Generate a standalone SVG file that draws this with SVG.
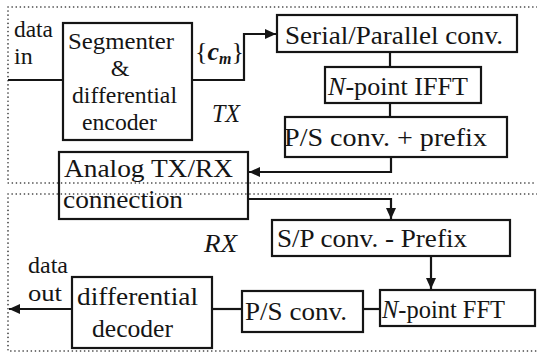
<svg xmlns="http://www.w3.org/2000/svg" width="537" height="356" viewBox="0 0 537 356">
<style>
text{font-family:"Liberation Serif","Times New Roman",serif;fill:#151515;font-size:24px}
.big{font-size:26px}
.it{font-style:italic}
.box{fill:none;stroke:#151515;stroke-width:2.2}
.dot{fill:none;stroke:#333;stroke-width:1.6;stroke-dasharray:0.1 4;stroke-linecap:round}
.ln{fill:none;stroke:#151515;stroke-width:2.2}
</style>
<defs>
<marker id="ah" markerUnits="userSpaceOnUse" markerWidth="12" markerHeight="10" refX="11" refY="5" orient="auto">
<path d="M0,0 L11,5 L0,10 Z" fill="#151515"/>
</marker>
</defs>
<rect width="537" height="356" fill="#fff"/>
<g id="frames">
<path class="dot" d="M537,7 H8 V183 H537"/>
<path class="dot" d="M537,194 H8 V351 H537"/>
</g>
<g id="labels">
<text x="14" y="37" textLength="39" lengthAdjust="spacingAndGlyphs">data</text>
<text x="14" y="64">in</text>
<text x="212" y="122" class="it big" textLength="28" lengthAdjust="spacingAndGlyphs">TX</text>
<text x="204" y="252" class="it big" textLength="33" lengthAdjust="spacingAndGlyphs">RX</text>
<text x="28" y="273" textLength="40" lengthAdjust="spacingAndGlyphs">data</text>
<text x="28" y="301" textLength="34" lengthAdjust="spacingAndGlyphs">out</text>
<text x="195" y="60" class="big">{<tspan class="it" font-weight="bold">c</tspan><tspan class="it" font-weight="bold" font-size="16" dy="4">m</tspan><tspan dy="-4">}</tspan></text>
</g>
<g id="segmenter">
<rect class="box" x="63" y="23" width="129" height="117"/>
<text x="68" y="49" textLength="106" lengthAdjust="spacingAndGlyphs">Segmenter</text>
<text x="120" y="76" text-anchor="middle" font-size="22">&amp;</text>
<text x="72" y="103" textLength="105" lengthAdjust="spacingAndGlyphs">differential</text>
<text x="82" y="130" textLength="75" lengthAdjust="spacingAndGlyphs">encoder</text>
</g>
<g id="sp-conv">
<rect class="box" x="277" y="15" width="240" height="37"/>
<text x="285" y="44" class="big" textLength="218" lengthAdjust="spacingAndGlyphs">Serial/Parallel conv.</text>
</g>
<g id="ifft">
<rect class="box" x="325" y="67" width="156" height="36"/>
<text x="328" y="95" class="big" textLength="140" lengthAdjust="spacingAndGlyphs"><tspan class="it">N</tspan>-point IFFT</text>
</g>
<g id="ps-prefix">
<rect class="box" x="285" y="117" width="222" height="40"/>
<text x="284" y="146" class="big" textLength="203" lengthAdjust="spacingAndGlyphs">P/S conv. + prefix</text>
</g>
<g id="analog">
<rect class="box" x="59" y="152" width="189" height="67"/>
<text x="64" y="177" class="big" textLength="169" lengthAdjust="spacingAndGlyphs">Analog TX/RX</text>
<text x="63" y="208" class="big" textLength="120" lengthAdjust="spacingAndGlyphs">connection</text>
</g>
<g id="sp-prefix">
<rect class="box" x="272" y="220" width="238" height="36"/>
<text x="277" y="247" class="big" textLength="190" lengthAdjust="spacingAndGlyphs">S/P conv. - Prefix</text>
</g>
<g id="fft">
<rect class="box" x="380" y="290" width="155" height="36"/>
<text x="382" y="318" class="big" textLength="123" lengthAdjust="spacingAndGlyphs"><tspan class="it">N</tspan>-point FFT</text>
</g>
<g id="ps-conv">
<rect class="box" x="242" y="291" width="121" height="41"/>
<text x="245" y="320" class="big" textLength="102" lengthAdjust="spacingAndGlyphs">P/S conv.</text>
</g>
<g id="decoder">
<rect class="box" x="72" y="277" width="140" height="71"/>
<text x="77" y="305" class="big" textLength="121" lengthAdjust="spacingAndGlyphs">differential</text>
<text x="92" y="337" class="big" textLength="81" lengthAdjust="spacingAndGlyphs">decoder</text>
</g>
<g id="connectors">
<path class="ln" d="M8,80 H63"/>
<path class="ln" d="M192,80 H244 V34 H276" marker-end="url(#ah)"/>
<path class="ln" d="M390,52 V67"/>
<path class="ln" d="M390,103 V117"/>
<path class="ln" d="M391,157 V172 H249" marker-end="url(#ah)"/>
<path class="ln" d="M248,199 H391 V219" marker-end="url(#ah)"/>
<path class="ln" d="M431,256 V289" marker-end="url(#ah)"/>
<path class="ln" d="M380,309 H363"/>
<path class="ln" d="M242,309 H212"/>
<path class="ln" d="M72,309 H9" marker-end="url(#ah)"/>
</g>
</svg>
